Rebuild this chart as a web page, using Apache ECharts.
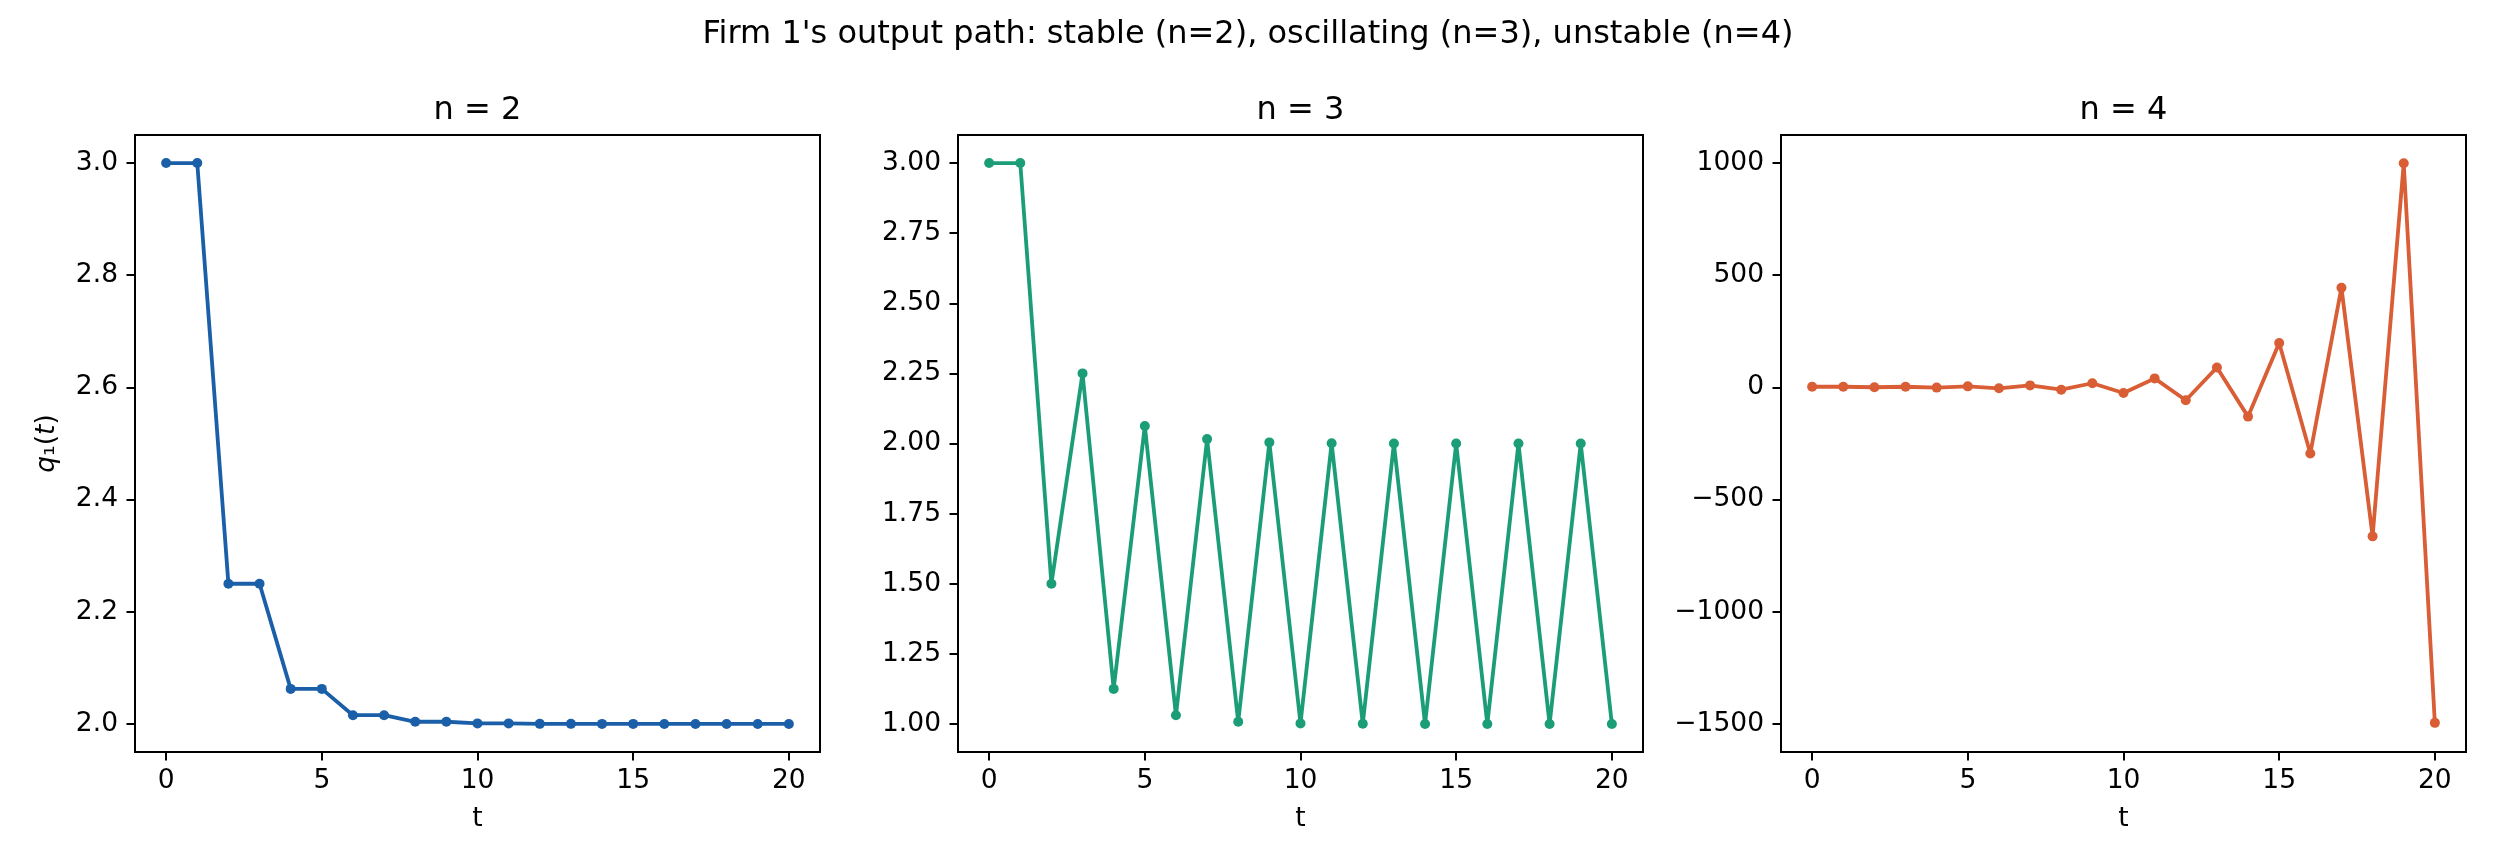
<!DOCTYPE html>
<html>
<head>
<meta charset="utf-8">
<script src="https://cdn.jsdelivr.net/npm/echarts@6/dist/echarts.min.js"></script>
<style>
html,body{margin:0;padding:0;background:#fff;}
#chart{width:2496px;height:864px;}
</style>
</head>
<body>
<div id="chart"></div>
<script>
// ---- data ----
const periods = [0,1,2,3,4,5,6,7,8,9,10,11,12,13,14,15,16,17,18,19,20];
const q1_n2 = [3.0, 3.0, 2.25, 2.25, 2.0625, 2.0625, 2.0156, 2.0156, 2.0039, 2.0039, 2.001, 2.001, 2.0002, 2.0002, 2.0001, 2.0001, 2.0, 2.0, 2.0, 2.0, 2.0];
const q1_n3 = [3.0, 3.0, 1.5, 2.25, 1.125, 2.0625, 1.0313, 2.0156, 1.0078, 2.0039, 1.002, 2.001, 1.0005, 2.0002, 1.0001, 2.0001, 1.0, 2.0, 1.0, 2.0, 1.0];
const q1_n4 = [3.0, 3.0, 0.75, 3.0, -0.94, 4.69, -3.89, 8.91, -10.32, 18.5, -24.75, 40.13, -57.19, 88.78, -130.17, 198.25, -294.38, 444.57, -663.85, 998.78, -1495.17];
const xTicks = [0, 5, 10, 15, 20];
const yTicks_n2 = [2.0, 2.2, 2.4, 2.6, 2.8, 3.0];
const yTicks_n3 = [1.0, 1.25, 1.5, 1.75, 2.0, 2.25, 2.5, 2.75, 3.0];
const yTicks_n4 = [-1500, -1000, -500, 0, 500, 1000];
const panelTitles = ['n = 2', 'n = 3', 'n = 4'];
const mainTitle = "Firm 1's output path: stable (n=2), oscillating (n=3), unstable (n=4)";
const colors = ['#1a5fa8', '#1b9e77', '#d95d35'];

// ---- layout ----
const FONT = 'DejaVu Sans';
const TICK_FS = 26.5, TITLE_FS = 32;
const gridLeft = [135, 958, 1781];
const gridTop = 135, gridW = 685, gridH = 617;
const yRanges = [[1.95, 3.05], [0.9, 3.1], [-1625, 1125]];
const yTickSets = [yTicks_n2, yTicks_n3, yTicks_n4];
const yFmt = [
  v => v.toFixed(1),
  v => v.toFixed(2),
  v => (v < 0 ? '\u2212' + Math.abs(v) : String(v))
];
const seriesData = [q1_n2, q1_n3, q1_n4];

const chart = echarts.init(document.getElementById('chart'), null, {renderer: 'canvas'});

const grids = [], xAxes = [], yAxes = [], series = [], titles = [];
titles.push({
  text: mainTitle, left: 1248, top: 35, textAlign: 'center', textVerticalAlign: 'middle', padding: 0,
  textStyle: {fontFamily: FONT, fontSize: TITLE_FS, fontWeight: 'normal', color: '#000'}
});
for (let i = 0; i < 3; i++) {
  grids.push({
    left: gridLeft[i], top: gridTop, width: gridW, height: gridH,
    containLabel: false, show: true, borderColor: '#000', borderWidth: 2,
    backgroundColor: 'transparent'
  });
  titles.push({
    text: panelTitles[i], left: gridLeft[i] + gridW / 2, top: 111, padding: 0,
    textAlign: 'center', textVerticalAlign: 'middle',
    textStyle: {fontFamily: FONT, fontSize: TITLE_FS, fontWeight: 'normal', color: '#000'}
  });
  xAxes.push({
    type: 'value', gridIndex: i, min: -1, max: 21,
    name: 't', nameLocation: 'middle', nameGap: 54,
    nameTextStyle: {fontFamily: FONT, fontSize: TICK_FS, color: '#000'},
    axisLine: {show: true, onZero: false, lineStyle: {color: '#000', width: 2}},
    axisTick: {show: true, inside: false, length: 8.5, lineStyle: {color: '#000', width: 2}, customValues: xTicks},
    axisLabel: {show: true, margin: 16, fontFamily: FONT, fontSize: TICK_FS, color: '#000', customValues: xTicks,
      formatter: v => String(v)},
    splitLine: {show: false}
  });
  const yAx = {
    type: 'value', gridIndex: i, min: yRanges[i][0], max: yRanges[i][1],
    axisLine: {show: true, onZero: false, lineStyle: {color: '#000', width: 2}},
    axisTick: {show: true, inside: false, length: 8.5, lineStyle: {color: '#000', width: 2}, customValues: yTickSets[i]},
    axisLabel: {show: true, margin: 17, fontFamily: FONT, fontSize: TICK_FS, color: '#000', customValues: yTickSets[i],
      formatter: yFmt[i]},
    splitLine: {show: false}
  };
  if (i === 0) {
    yAx.name = '{i|q}{s|\u2081}{r|(}{i|t}{r|)}';
    yAx.nameLocation = 'middle';
    yAx.nameGap = 74;
    yAx.nameTextStyle = {
      fontFamily: FONT, fontSize: TICK_FS, color: '#000',
      rich: {
        i: {fontFamily: FONT, fontSize: TICK_FS, fontStyle: 'italic', color: '#000'},
        s: {fontFamily: FONT, fontSize: TICK_FS, color: '#000'},
        r: {fontFamily: FONT, fontSize: TICK_FS, color: '#000'}
      }
    };
  }
  yAxes.push(yAx);
  series.push({
    type: 'line', xAxisIndex: i, yAxisIndex: i,
    data: periods.map((t, k) => [t, seriesData[i][k]]),
    symbol: 'circle', symbolSize: 10, showSymbol: true,
    lineStyle: {color: colors[i], width: 3.8},
    itemStyle: {color: colors[i]},
    emphasis: {disabled: true},
    clip: false
  });
}

chart.setOption({
  animation: false,
  backgroundColor: '#fff',
  title: titles,
  grid: grids,
  xAxis: xAxes,
  yAxis: yAxes,
  series: series
});
</script>
</body>
</html>
